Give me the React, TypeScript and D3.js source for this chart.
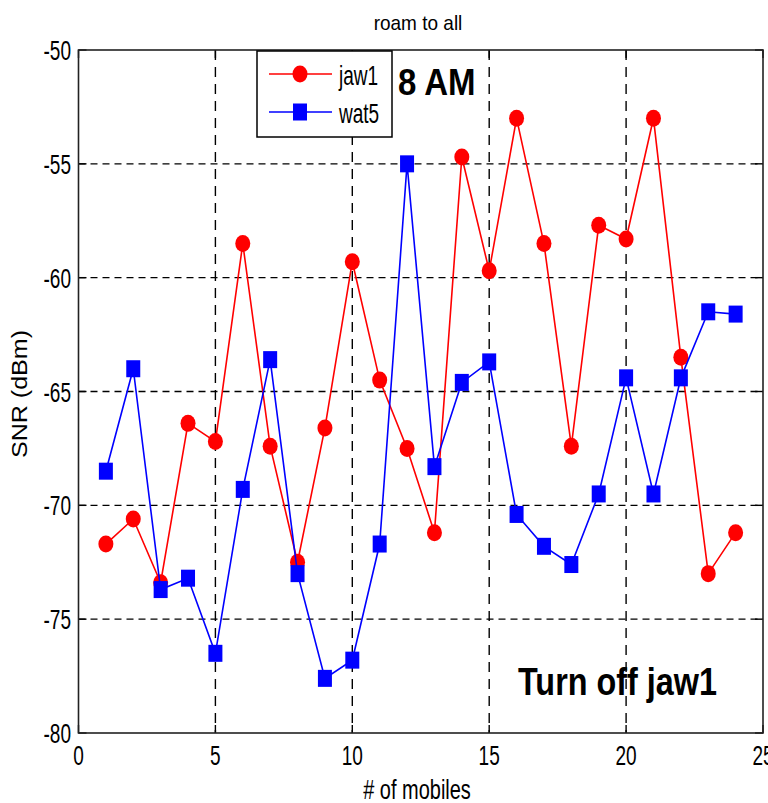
import React from "react";
import * as d3 from "d3";

// SNR per mobile for the two access points
const mobiles = d3.range(1, 25);
const jaw1 = [-71.7, -70.6, -73.4, -66.4, -67.2, -58.5, -67.4, -72.5, -66.6, -59.3, -64.5, -67.5, -71.2, -54.7, -59.7, -53.0, -58.5, -67.4, -57.7, -58.3, -53.0, -63.5, -73.0, -71.2];
const wat5 = [-68.5, -64.0, -73.7, -73.2, -76.5, -69.3, -63.6, -73.0, -77.6, -76.8, -71.7, -55.0, -68.3, -64.6, -63.7, -70.4, -71.8, -72.6, -69.5, -64.4, -69.5, -64.4, -61.5, -61.6];
const xTicks = [0, 5, 10, 15, 20, 25];
const yTicks = [-80, -75, -70, -65, -60, -55, -50];
const seriesNames = ["jaw1", "wat5"];

const W = 768;
const H = 803;
const FONT = "'Liberation Sans', Arial, sans-serif";

export default function App() {
  const x = d3.scaleLinear().domain([0, 25]).range([78.5, 763]);
  const y = d3.scaleLinear().domain([-80, -50]).range([733, 50]);
  const [x0, x1] = x.range();
  const [yB, yT] = y.range();

  const line = d3
    .line<number>()
    .x((_, i) => x(mobiles[i]))
    .y((d) => y(d));

  const tickLen = 8;
  const textScaled = (
    key: string,
    tx: number,
    ty: number,
    s: string,
    size: number,
    sx: number,
    anchor: string,
    extra: any = {}
  ) => (
    <text
      key={key}
      transform={`translate(${tx},${ty}) scale(${sx},1)`}
      fontSize={size}
      fontFamily={FONT}
      textAnchor={anchor}
      fill="#000"
      {...extra}
    >
      {s}
    </text>
  );

  return (
    <svg
      width={W}
      height={H}
      style={{ position: "absolute", left: 0, top: 0, background: "#fff", display: "block" }}
    >
      <rect x={0} y={0} width={W} height={H} fill="#fff" />

      {/* grid */}
      {xTicks
        .filter((t) => t > 0 && t < 25)
        .map((t) => (
          <line key={"gx" + t} x1={x(t)} x2={x(t)} y1={yT} y2={yB} stroke="#000" strokeWidth={1.4} strokeDasharray="10 7" />
        ))}
      {yTicks
        .filter((t) => t > -80 && t < -50)
        .map((t) => (
          <line key={"gy" + t} x1={x0} x2={x1} y1={y(t)} y2={y(t)} stroke="#000" strokeWidth={1.4} strokeDasharray="7 5" />
        ))}

      {/* ticks on all sides */}
      {xTicks.map((t) => (
        <g key={"tx" + t}>
          <line x1={x(t)} x2={x(t)} y1={yB} y2={yB - tickLen} stroke="#000" strokeWidth={1.4} />
          <line x1={x(t)} x2={x(t)} y1={yT} y2={yT + tickLen} stroke="#000" strokeWidth={1.4} />
        </g>
      ))}
      {yTicks.map((t) => (
        <g key={"ty" + t}>
          <line x1={x0} x2={x0 + tickLen} y1={y(t)} y2={y(t)} stroke="#000" strokeWidth={1.4} />
          <line x1={x1} x2={x1 - tickLen} y1={y(t)} y2={y(t)} stroke="#000" strokeWidth={1.4} />
        </g>
      ))}

      {/* series */}
      <path d={line(jaw1) || ""} fill="none" stroke="#ff0000" strokeWidth={1.6} />
      {jaw1.map((v, i) => (
        <ellipse key={"j" + i} cx={x(mobiles[i])} cy={y(v)} rx={7.5} ry={8.5} fill="#ff0000" />
      ))}
      <path d={line(wat5) || ""} fill="none" stroke="#0000ff" strokeWidth={1.6} />
      {wat5.map((v, i) => (
        <rect key={"w" + i} x={x(mobiles[i]) - 7} y={y(v) - 8.5} width={14} height={17} fill="#0000ff" />
      ))}

      {/* axes box */}
      <rect x={x0} y={yT} width={x1 - x0} height={yB - yT} fill="none" stroke="#222" strokeWidth={1.6} />

      {/* tick labels */}
      {yTicks.map((t) => textScaled("yl" + t, 71, y(t) + 10, String(t), 28, 0.68, "end"))}
      {xTicks.map((t) => textScaled("xl" + t, x(t), 765, String(t), 28, 0.68, "middle"))}

      {/* titles */}
      {textScaled("title", 418, 30, "roam to all", 20, 0.95, "middle")}
      {textScaled("xlab", 417, 799, "# of mobiles", 27, 0.74, "middle")}
      <text
        transform={`translate(27,394) rotate(-90) scale(1.14,1)`}
        fontSize={22}
        fontFamily={FONT}
        textAnchor="middle"
        fill="#000"
      >
        SNR (dBm)
      </text>

      {/* legend */}
      <g>
        <rect x={257} y={51} width={135} height={86} fill="#fff" stroke="#000" strokeWidth={1.5} />
        <line x1={269} x2={332} y1={74} y2={74} stroke="#ff0000" strokeWidth={1.6} />
        <ellipse cx={300} cy={74} rx={7.5} ry={8.5} fill="#ff0000" />
        <line x1={269} x2={332} y1={112} y2={112} stroke="#0000ff" strokeWidth={1.6} />
        <rect x={293} y={103.5} width={14} height={17} fill="#0000ff" />
        {textScaled("lg0", 339, 85, seriesNames[0], 28, 0.68, "start")}
        {textScaled("lg1", 339, 123, seriesNames[1], 28, 0.68, "start")}
      </g>

      {/* annotations */}
      {textScaled("am", 398, 95, "8 AM", 37.5, 0.88, "start", { fontWeight: "bold" })}
      {textScaled("off", 518, 695, "Turn off jaw1", 39, 0.83, "start", { fontWeight: "bold" })}
    </svg>
  );
}
